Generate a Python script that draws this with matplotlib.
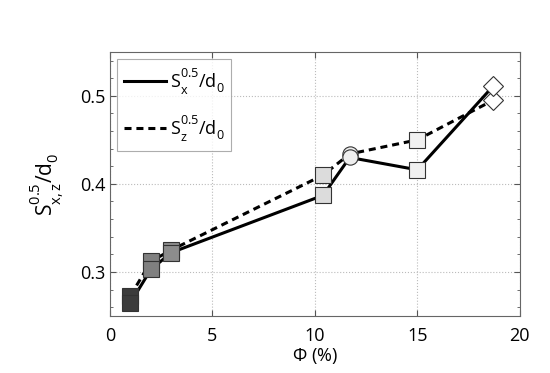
import matplotlib
matplotlib.use('Agg')
import matplotlib.pyplot as plt
from matplotlib.ticker import AutoMinorLocator
import matplotlib._mathtext as mt

# Daten
phi = [1.0, 2.0, 3.0, 10.4, 11.7, 15.0, 18.7]
sx = [0.265, 0.303, 0.322, 0.387, 0.430, 0.416, 0.511]
sz = [0.273, 0.312, 0.325, 0.410, 0.434, 0.450, 0.495]
face_colors = ['#3c3c3c', '#808080', '#8c8c8c', '#dcdcdc', '#eeeeee', '#f0f0f0', '#ffffff']
markers = ['s', 's', 's', 's', 'o', 's', 'D']

plt.rcParams['font.family'] = ['Open Sans', 'DejaVu Sans']
plt.rcParams['mathtext.fontset'] = 'custom'
plt.rcParams['mathtext.rm'] = 'Open Sans'
plt.rcParams['mathtext.it'] = 'Open Sans'
plt.rcParams['mathtext.default'] = 'regular'

# Hoch-/Tiefstellung weiter auseinander (wie im Original)
mt.FontConstantsBase.sup1 = 1.0
mt.FontConstantsBase.sub1 = 0.55
mt.FontConstantsBase.sub2 = 0.75

fig = plt.figure(figsize=(5.5, 3.73), dpi=100)
ax = fig.add_axes([0.2, 0.153, 0.745, 0.708])

ax.plot(phi, sx, color='black', lw=2.2, ls='-', label=r'S$_x^{0.5}$/d$_0$', zorder=2)
ax.plot(phi, sz, color='black', lw=2.2, ls=(0, (2.3, 1.6)), label=r'S$_z^{0.5}$/d$_0$', zorder=2)

# Marker einzeln zeichnen (Farbe je Punkt)
for i in range(len(phi)):
    ms = 11 if markers[i] != 'D' else 10
    for y in (sz[i], sx[i]):
        ax.plot(phi[i], y, marker=markers[i], ms=ms, mfc=face_colors[i],
                mec='#333333', mew=0.8, ls='none', zorder=3)

ax.set_xlim(0, 20)
ax.set_ylim(0.25, 0.55)
ax.set_xticks([0, 5, 10, 15, 20])
ax.set_yticks([0.3, 0.4, 0.5])
ax.set_yticklabels(['0.3', '0.4', '0.5'])
ax.yaxis.set_minor_locator(AutoMinorLocator(5))
ax.grid(True, which='major', ls=':', color='#bbbbbb', lw=0.8)
ax.tick_params(which='both', direction='in', top=True, right=True, labelsize=13, color='#555555')
ax.tick_params(which='major', length=4)
ax.tick_params(which='minor', length=2)
ax.tick_params(axis='x', pad=8)
for s in ax.spines.values():
    s.set_color('#666666')

ax.set_xlabel(r'$\Phi$ (%)', fontsize=13, labelpad=1)
ax.set_ylabel(r'S$_{x,z}^{0.5}$/d$_0$', fontsize=15, labelpad=10)

leg = ax.legend(loc='upper left', fontsize=13, frameon=True, fancybox=False,
                edgecolor='#999999', handlelength=2.3, handletextpad=0.2,
                labelspacing=0.9, borderaxespad=0.4)
leg.get_frame().set_linewidth(0.8)

plt.savefig('out.png', dpi=100)
